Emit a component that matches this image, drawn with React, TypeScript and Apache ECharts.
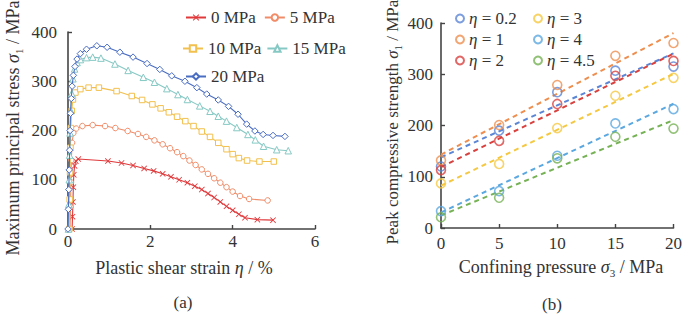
import React, { useEffect, useRef } from 'react';
import * as echarts from 'echarts';

const FONT = '"Liberation Serif", "Times New Roman", serif';
const TXT = '#333333';
const AXIS = '#444444';

// ---------- Panel (a): stress vs plastic shear strain ----------
const curveNames = ['0 MPa', '5 MPa', '10 MPa', '15 MPa', '20 MPa'];
const curveColors = ['#E0393B', '#F08C68', '#F2C04E', '#86C9C4', '#4A6DC2'];

const strain0 = [0.10, 0.11, 0.12, 0.13, 0.14, 0.16, 0.19, 0.25, 0.97, 1.30, 1.58, 1.85, 2.08, 2.30, 2.50, 2.70, 2.90, 3.08, 3.25, 3.40, 3.55, 3.70, 3.85, 4.00, 4.15, 4.30, 4.60, 4.98];
const stress0 = [0, 25, 55, 85, 110, 128, 138, 142, 138, 134, 129, 123, 118, 112, 106, 100, 94, 87, 80, 72, 64, 55, 46, 38, 30, 23, 19, 18];

const strain5 = [0.05, 0.06, 0.07, 0.08, 0.10, 0.13, 0.20, 0.35, 0.60, 0.90, 1.15, 1.45, 1.70, 1.90, 2.10, 2.30, 2.48, 2.65, 2.80, 2.95, 3.10, 3.25, 3.40, 3.55, 3.70, 3.85, 4.00, 4.18, 4.40, 4.85];
const stress5 = [0, 45, 95, 140, 175, 195, 204, 209, 211, 209, 205, 199, 193, 187, 180, 172, 164, 156, 148, 139, 130, 121, 112, 103, 94, 85, 76, 67, 61, 58];

const strain10 = [0.03, 0.04, 0.05, 0.06, 0.07, 0.09, 0.12, 0.18, 0.30, 0.50, 0.75, 1.18, 1.55, 1.80, 2.05, 2.25, 2.45, 2.65, 2.85, 3.05, 3.25, 3.45, 3.65, 3.85, 4.00, 4.15, 4.35, 4.65, 5.00];
const stress10 = [0, 60, 115, 165, 205, 240, 263, 277, 284, 287, 287, 280, 270, 262, 253, 245, 237, 228, 219, 209, 198, 187, 175, 162, 152, 144, 139, 137, 137];

const strain15 = [0.01, 0.02, 0.03, 0.04, 0.05, 0.07, 0.09, 0.12, 0.16, 0.22, 0.30, 0.45, 0.60, 0.80, 1.14, 1.46, 1.83, 2.10, 2.40, 2.67, 2.90, 3.20, 3.45, 3.65, 3.85, 4.10, 4.37, 4.55, 4.75, 5.07, 5.35];
const stress15 = [0, 50, 100, 150, 195, 240, 275, 305, 325, 338, 344, 348, 349, 347, 335, 322, 308, 298, 285, 273, 263, 250, 239, 229, 219, 206, 192, 181, 168, 161, 159];

const strain20 = [0.00, 0.01, 0.02, 0.03, 0.04, 0.05, 0.06, 0.08, 0.10, 0.13, 0.17, 0.22, 0.30, 0.45, 0.70, 0.95, 1.26, 1.58, 1.92, 2.23, 2.52, 2.84, 3.13, 3.37, 3.65, 3.90, 4.13, 4.34, 4.54, 4.74, 4.98, 5.27];
const stress20 = [0, 40, 80, 120, 160, 200, 235, 265, 290, 312, 330, 345, 356, 365, 372, 369, 359, 349, 336, 324, 311, 300, 287, 274, 262, 249, 233, 213, 199, 192, 190, 188];

const curveStrains = [strain0, strain5, strain10, strain15, strain20];
const curveStresses = [stress0, stress5, stress10, stress15, stress20];
const X_SYMBOL = 'path://M0,1L1,0L5,4L9,0L10,1L6,5L10,9L9,10L5,6L1,10L0,9L4,5Z';
const curveSymbols = [X_SYMBOL, 'circle', 'rect', 'triangle', 'diamond'];
const curveSymbolSizes = [6, 5.5, 5.5, 6.5, 6.5];

// ---------- Panel (b): peak strength vs confining pressure ----------
const confining = [0, 5, 10, 15, 20];
const etaNames = ['η = 0.2', 'η = 1', 'η = 2', 'η = 3', 'η = 4', 'η = 4.5'];
const etaColors = ['#5B86D6', '#EE8E4F', '#D8413E', '#F5C842', '#5BA8E0', '#76B255'];
const peak02 = [120, 190, 265, 307, 315];
const peak1 = [132, 201, 279, 336, 361];
const peak2 = [113, 170, 242, 297, 326];
const peak3 = [87, 125, 195, 258, 293];
const peak4 = [33, 72, 141, 204, 232];
const peak45 = [21, 59, 136, 178, 194];
const etaPeaks = [peak02, peak1, peak2, peak3, peak4, peak45];

function linearFit(xs: number[], ys: number[]) {
  const n = xs.length;
  const mx = xs.reduce((a, b) => a + b, 0) / n;
  const my = ys.reduce((a, b) => a + b, 0) / n;
  let sxy = 0, sxx = 0;
  for (let i = 0; i < n; i++) {
    sxy += (xs[i] - mx) * (ys[i] - my);
    sxx += (xs[i] - mx) * (xs[i] - mx);
  }
  const k = sxy / sxx;
  const b = my - k * mx;
  const x0 = xs[0], x1 = xs[n - 1];
  return [[x0, k * x0 + b], [x1, k * x1 + b]];
}

const richFor = (size: number) => ({
  i: { fontStyle: 'italic', fontFamily: FONT, fontSize: size, lineHeight: 22, verticalAlign: 'middle', fill: TXT, color: TXT },
  n: { fontFamily: FONT, fontSize: size, lineHeight: 22, verticalAlign: 'middle', fill: TXT, color: TXT },
  sub: { fontFamily: FONT, fontSize: 11, lineHeight: 11, verticalAlign: 'bottom', fill: TXT, color: TXT },
});

function textEl(text: string, x: number, y: number, size: number, rotation = 0) {
  return {
    type: 'text',
    x,
    y,
    rotation,
    silent: true,
    style: {
      text,
      fontFamily: FONT,
      fontSize: size,
      lineHeight: 22,
      fill: TXT,
      align: 'center',
      verticalAlign: 'middle',
      textAlign: 'center',
      textVerticalAlign: 'middle',
      rich: richFor(size),
    },
  };
}

const axisCommon = {
  axisLine: { show: true, onZero: false, lineStyle: { color: AXIS, width: 1.6 } },
  axisTick: { show: true, inside: true, length: 4, lineStyle: { color: AXIS, width: 1.4 } },
  splitLine: { show: false },
};
const labelCommon = { color: TXT, fontFamily: FONT, fontSize: 17 };

export default function App() {
  const ref = useRef<HTMLDivElement>(null);

  useEffect(() => {
    if (!ref.current) return;
    const chart = echarts.init(ref.current, undefined, { renderer: 'svg' });

    const leftSeries = curveNames.map((name, i) => ({
      name,
      type: 'line',
      xAxisIndex: 0,
      yAxisIndex: 0,
      data: curveStrains[i].map((x, j) => [x, curveStresses[i][j]]),
      symbol: curveSymbols[i],
      symbolSize: curveSymbolSizes[i],
      showAllSymbol: true,
      color: curveColors[i],
      itemStyle:
        i === 0
          ? { color: curveColors[i] }
          : { color: '#ffffff', borderColor: curveColors[i], borderWidth: 1 },
      lineStyle: { color: curveColors[i], width: 1.1 },
      z: 2 + i,
    }));

    const scatterSeries = etaNames.map((name, i) => ({
      name,
      type: 'scatter',
      xAxisIndex: 1,
      yAxisIndex: 1,
      data: confining.map((x, j) => [x, etaPeaks[i][j]]),
      symbol: 'circle',
      symbolSize: 9,
      itemStyle: { color: 'rgba(255,255,255,0)', borderColor: etaColors[i], borderWidth: 1.6 },
      z: 5,
    }));

    const fitSeries = etaNames.map((name, i) => ({
      name: 'fit ' + name,
      type: 'line',
      xAxisIndex: 1,
      yAxisIndex: 1,
      data: linearFit(confining, etaPeaks[i]),
      showSymbol: false,
      symbol: 'none',
      color: etaColors[i],
      lineStyle: { color: etaColors[i], width: 2, type: [5, 4] },
      z: 3,
    }));

    const legendBase = {
      padding: 0,
      selectedMode: false,
      itemGap: 8,
      textStyle: { color: TXT, fontFamily: FONT, fontSize: 17 },
    };
    const etaLegendText = {
      color: TXT,
      fontFamily: FONT,
      fontSize: 17,
      rich: {
        i: { fontStyle: 'italic', fontFamily: FONT, fontSize: 17, color: TXT },
        n: { fontFamily: FONT, fontSize: 17, color: TXT },
      },
    };
    const etaFormatter = (name: string) => '{i|η}{n|' + name.slice(1) + '}';

    const option: any = {
      animation: false,
      backgroundColor: '#ffffff',
      grid: [
        { left: 68, top: 32, width: 247, height: 197, containLabel: false },
        { left: 441, top: 23, width: 233, height: 205, containLabel: false },
      ],
      xAxis: [
        {
          type: 'value', gridIndex: 0, min: 0, max: 6, interval: 2,
          ...axisCommon,
          axisLabel: { ...labelCommon, margin: 4 },
        },
        {
          type: 'value', gridIndex: 1, min: 0, max: 20, interval: 5,
          ...axisCommon,
          axisLabel: { ...labelCommon, margin: 7 },
        },
      ],
      yAxis: [
        {
          type: 'value', gridIndex: 0, min: 0, max: 400, interval: 100,
          ...axisCommon,
          axisLabel: { ...labelCommon, margin: 11 },
        },
        {
          type: 'value', gridIndex: 1, min: 0, max: 400, interval: 100,
          ...axisCommon,
          axisLabel: { ...labelCommon, margin: 8 },
        },
      ],
      legend: [
        { ...legendBase, data: ['0 MPa', '5 MPa'], left: 185, top: 9, itemWidth: 20, itemHeight: 8 },
        { ...legendBase, data: ['10 MPa', '15 MPa'], left: 182, top: 40, itemWidth: 20, itemHeight: 8, itemGap: 5 },
        { ...legendBase, data: ['20 MPa'], left: 185, top: 68, itemWidth: 20, itemHeight: 8 },
        {
          ...legendBase, orient: 'vertical', data: etaNames.slice(0, 3), left: 455, top: 10,
          itemWidth: 8, itemHeight: 8, itemGap: 4, textStyle: etaLegendText, formatter: etaFormatter,
        },
        {
          ...legendBase, orient: 'vertical', data: etaNames.slice(3), left: 533, top: 10,
          itemWidth: 8, itemHeight: 8, itemGap: 4, textStyle: etaLegendText, formatter: etaFormatter,
        },
      ],
      graphic: [
        textEl('{n|Maximum principal stress }{i|σ}{sub|1}{n| / MPa}', 13, 128, 18, Math.PI / 2),
        textEl('{n|Plastic shear strain }{i|η}{n| / %}', 184, 268, 18),
        textEl('{n|(a)}', 183, 302, 17),
        textEl('{n|Peak compressive strength }{i|σ}{sub|1}{n| / MPa}', 392, 122, 17, Math.PI / 2),
        textEl('{n|Confining pressure }{i|σ}{sub|3}{n| / MPa}', 561, 267, 18),
        textEl('{n|(b)}', 552, 304, 17),
      ],
      series: [...leftSeries, ...fitSeries, ...scatterSeries],
    };

    chart.setOption(option);
    return () => chart.dispose();
  }, []);

  return (
    <div
      ref={ref}
      style={{ position: 'fixed', left: 0, top: 0, width: 685, height: 314, background: '#fff' }}
    />
  );
}
